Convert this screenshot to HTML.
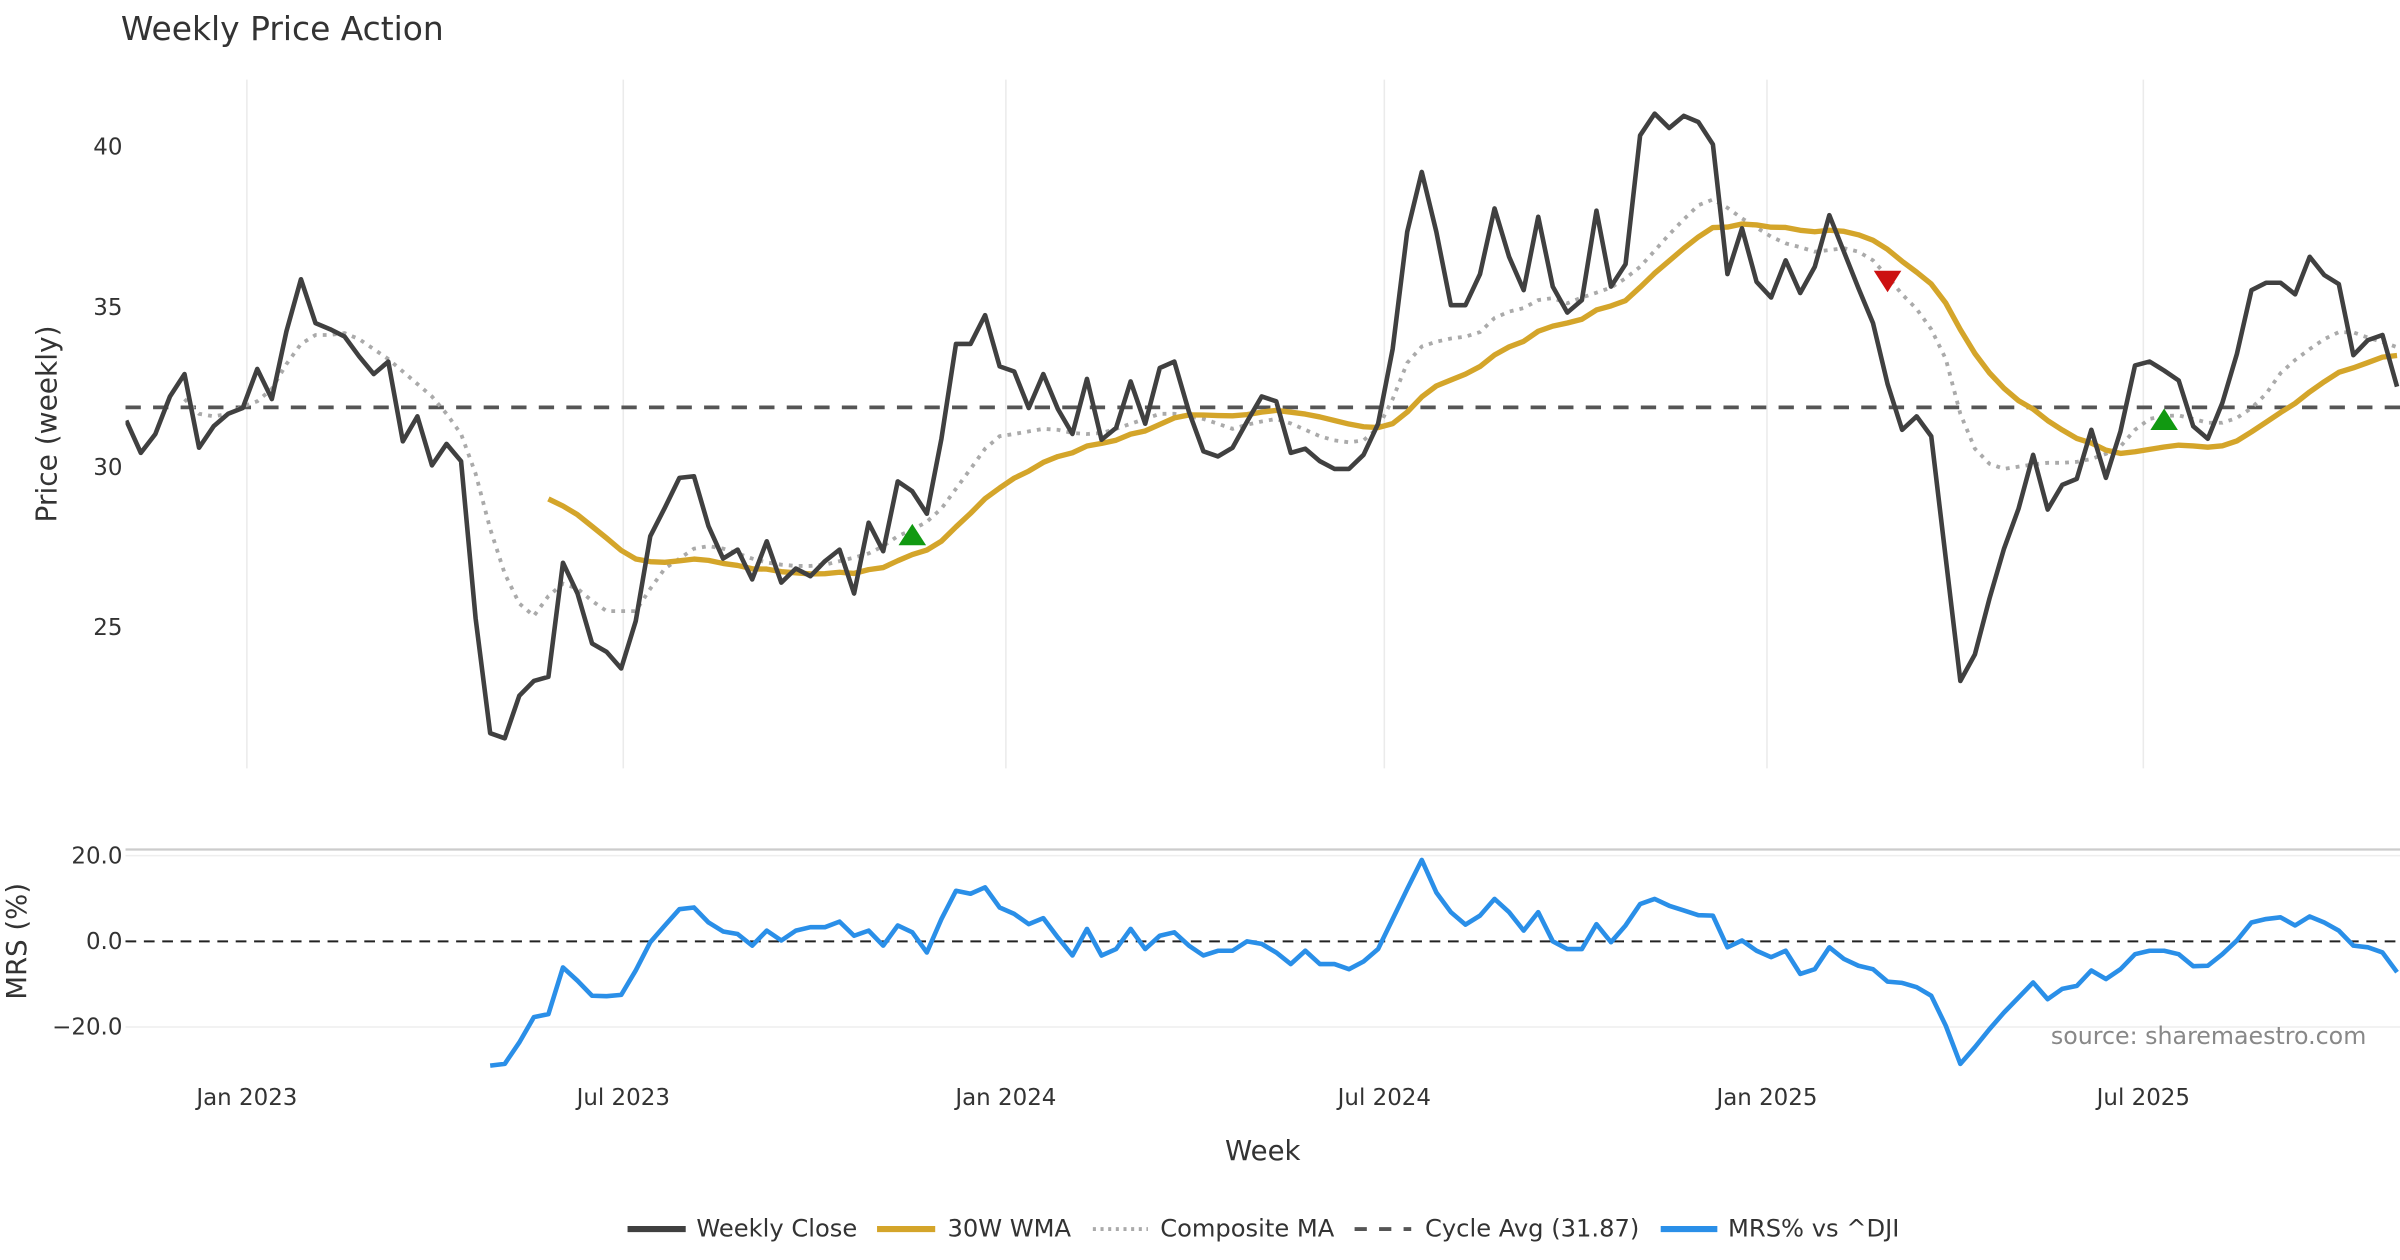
<!DOCTYPE html>
<html><head><meta charset="utf-8"><style>
html,body{margin:0;padding:0;background:#fff;}
svg{display:block;font-family:"DejaVu Sans","Liberation Sans",sans-serif;}
</style></head><body>
<svg id="chart" width="2400" height="1260" viewBox="0 0 1568 823.2" xmlns="http://www.w3.org/2000/svg">
<rect width="1568" height="823.2" fill="#fff"/>
<text x="79" y="26" font-size="21.5" fill="#333">Weekly Price Action</text>
<g id="grid"></g>
<g id="series"></g>
<g id="axes"></g>
<text transform="translate(37,277) rotate(-90)" text-anchor="middle" font-size="18.3" fill="#333">Price (weekly)</text>
<text transform="translate(17,615) rotate(-90)" text-anchor="middle" font-size="18" fill="#333">MRS (%)</text>
<text x="825" y="758" text-anchor="middle" font-size="18" fill="#333">Week</text>
<text x="1546" y="682" text-anchor="end" font-size="15.5" fill="#888">source: sharemaestro.com</text>
<g font-size="15.8" fill="#333">
  <g><line x1="410" y1="803" x2="448" y2="803" stroke="#404040" stroke-width="4"/><text x="455" y="808">Weekly Close</text></g>
  <g><line x1="573" y1="803" x2="611" y2="803" stroke="#D4A52A" stroke-width="4"/><text x="619" y="808">30W WMA</text></g>
  <g><line x1="714" y1="803" x2="750" y2="803" stroke="#aaa" stroke-width="2.5" stroke-dasharray="2,3"/><text x="758" y="808">Composite MA</text></g>
  <g><line x1="885" y1="803" x2="922" y2="803" stroke="#555" stroke-width="2.5" stroke-dasharray="8,8"/><text x="931" y="808">Cycle Avg (31.87)</text></g>
  <g><line x1="1085" y1="803" x2="1122" y2="803" stroke="#2A8FE8" stroke-width="4"/><text x="1129" y="808">MRS% vs ^DJI</text></g>
</g>
</svg>
<script>
const closes = [31.46,30.45,31.04,32.21,32.91,30.61,31.28,31.67,31.85,33.07,
32.13,34.24,35.87,34.50,34.31,34.08,33.46,32.91,33.30,30.81,
31.59,30.06,30.73,30.19,25.28,21.70,21.54,22.87,23.33,23.46,
27.02,26.06,24.50,24.24,23.72,25.20,27.85,28.74,29.67,29.72,
28.16,27.15,27.43,26.50,27.69,26.40,26.84,26.60,27.07,27.43,
26.06,28.27,27.38,29.56,29.25,28.55,30.89,33.85,33.85,34.75,
33.15,32.99,31.85,32.91,31.82,31.04,32.76,30.86,31.23,32.68,
31.36,33.10,33.30,31.74,
30.50,30.34,30.61,31.43,32.21,32.06,30.45,30.58,30.19,29.95,
29.95,30.39,31.36,33.69,37.35,39.22,37.35,35.06,35.06,36.03,
38.08,36.57,35.53,37.82,35.64,34.83,35.22,38.01,35.64,36.34,
40.36,41.04,40.59,40.97,40.78,40.08,36.03,37.46,35.79,35.30,
36.46,35.44,36.26,37.87,36.73,35.59,34.50,32.60,31.17,31.59,
30.97,27.15,23.33,24.16,25.90,27.46,28.71,30.39,28.68,29.45,
29.64,31.17,29.67,31.12,33.18,33.30,33.02,32.71,31.28,30.89,
32.01,33.54,35.53,35.76,35.76,35.40,36.57,36.00,35.72,33.50,
33.97,34.13,32.52];
const compositeStart = 4;
const compositeValues = [32.13,31.67,31.59,31.67,31.90,32.06,32.45,33.22,33.85,34.13,
34.13,34.19,34.00,33.69,33.38,32.99,32.60,32.21,31.67,31.04,29.80,
28.08,26.68,25.75,25.36,25.98,26.37,26.21,25.83,25.51,25.51,25.51,
26.21,26.84,27.15,27.46,27.54,27.46,27.31,27.15,27.03,26.96,26.92,26.92,26.96,27.07,27.18,27.31,27.54,27.85,
28.05,28.30,
28.71,29.33,29.95,30.58,30.97,31.04,31.12,31.20,31.17,31.07,31.04,31.07,31.20,31.36,31.51,31.67,31.67,31.59,
31.51,31.36,31.20,31.33,
31.43,31.51,31.37,31.17,30.97,30.84,30.78,30.84,31.23,32.13,
33.26,33.77,33.92,34.02,34.08,34.22,34.66,34.86,34.97,35.22,
35.28,35.12,35.30,35.45,35.61,35.90,36.26,36.76,37.27,37.74,
38.18,38.36,38.10,37.77,37.48,37.20,36.99,36.87,36.73,36.78,
36.84,36.73,36.46,35.95,35.40,34.94,34.31,33.38,31.67,30.58,
30.11,29.95,30.02,30.09,30.14,30.14,30.17,30.26,30.42,30.65,
31.17,31.51,31.60,31.62,31.51,31.39,31.39,31.54,31.85,32.29,
32.94,33.35,33.69,34.00,34.22,34.21,34.05,33.91,33.75];
const mrsStart = 25;
const mrsValues = [-29.0,-28.6,-23.6,-17.7,-17.0,-6.1,-9.2,-12.7,-12.8,-12.5,
-6.8,-0.2,3.7,7.5,7.9,4.4,2.3,1.7,-1.0,2.5,
0.2,2.5,3.3,3.3,4.6,1.3,2.5,-1.0,3.7,2.1,
-2.6,5.2,11.8,11.1,12.6,7.9,6.4,4.0,5.4,0.9,
-3.3,2.9,-3.3,-1.8,2.9,-1.8,1.3,2.1,-1.0,-3.3,
-2.2,-2.2,0,-0.6,-2.6,-5.3,-2.2,-5.3,-5.3,-6.5,
-4.7,-1.8,5.2,12.2,19.0,11.4,6.8,3.9,6.0,9.9,
6.8,2.5,6.8,0,-1.8,-1.8,4.0,-0.2,3.7,8.7,
9.9,8.3,7.2,6.1,6.0,-1.4,0.2,-2.2,-3.7,-2.2,
-7.6,-6.5,-1.4,-4.1,-5.7,-6.5,-9.4,-9.7,-10.7,-12.7,
-19.7,-28.6,-24.7,-20.5,-16.6,-13.1,-9.6,-13.5,-11.1,-10.4,
-6.8,-8.8,-6.5,-3.0,-2.2,-2.2,-3.0,-5.8,-5.7,-3.0,
0.2,4.4,5.2,5.6,3.7,5.8,4.4,2.5,-1.0,-1.4,-2.6,-7.2];
const cycleAvg = 31.87;
const signalIdx = [54, 121, 140];
const signalPrice = [27.9, 35.8, 31.5];
const signalDir = ["up", "down", "up"];
const priceTicks = [25, 30, 35, 40];
const mrsTicks = [-20, 0, 20];
const mrsTickLabels = ["\u221220.0", "0.0", "20.0"];
const dateTicks = ["2023-01-01","2023-07-01","2024-01-01","2024-07-01","2025-01-01","2025-07-01"];
const dateTickLabels = ["Jan 2023","Jul 2023","Jan 2024","Jul 2024","Jan 2025","Jul 2025"];

(function(){
const NS = "http://www.w3.org/2000/svg";
const X0 = 82.5, STEP = 9.51;
const START = Date.UTC(2022, 10, 4);
function xIdx(i){ return X0 + i*STEP; }
function xDate(s){ const d = Date.parse(s + "T00:00:00Z"); return X0 + (d-START)/(7*864e5)*STEP; }
function yP(v){ return 96 + (40 - v)*20.93; }
function yM(v){ return 615 - v*2.8; }
function mk(tag, attrs, parent){ const e=document.createElementNS(NS,tag); for(const k in attrs) e.setAttribute(k, attrs[k]); parent.appendChild(e); return e; }

function wma(arr, n){ const out=[]; for(let i=0;i<arr.length;i++){ if(i<n-1){out.push(null);continue;} let s=0,w=0; for(let k=0;k<n;k++){ s+=arr[i-k]*(n-k); w+=(n-k);} out.push(s/w);} return out; }
const wma30 = wma(closes, 30);

const gridG = document.getElementById('grid');
const seriesG = document.getElementById('series');
const axesG = document.getElementById('axes');

const defs = mk('defs', {}, seriesG);
const cp = mk('clipPath', {id:'clipTop'}, defs); mk('rect',{x:82,y:40,width:1486,height:470},cp);
const cp2 = mk('clipPath', {id:'clipBot'}, defs); mk('rect',{x:82,y:550,width:1486,height:160},cp2);

dateTicks.forEach((d,i)=>{
  const x = xDate(d);
  const gl = mk('line',{x1:x,y1:52,x2:x,y2:502,stroke:'#ebebeb','stroke-width':1},gridG);
  
  
  const t = mk('text',{x:x,y:722,'text-anchor':'middle','font-size':15,fill:'#333'},axesG);
  t.textContent = dateTickLabels[i];
  
  
});
priceTicks.forEach(v=>{
  const t = mk('text',{x:80,y:yP(v)+5,'text-anchor':'end','font-size':15,fill:'#333'},axesG);
  t.textContent = String(v);
  
  
});
const bt = mk('line',{x1:82,y1:555,x2:1568,y2:555,stroke:'#ccc','stroke-width':1.5},gridG);


mrsTicks.forEach((v,i)=>{
  if(v!==0){
    const g = mk('line',{x1:82,y1:yM(v),x2:1568,y2:yM(v),stroke:'#eee','stroke-width':1},gridG);
    
    
  }
  const t = mk('text',{x:80,y:yM(v)+5,'text-anchor':'end','font-size':15,fill:'#333'},axesG);
  t.textContent = mrsTickLabels[i];
  
  
});
const zl = mk('line',{x1:82,y1:yM(0),x2:1568,y2:yM(0),stroke:'#222','stroke-width':1.3,'stroke-dasharray':'7,5'},gridG);



function pathFrom(vals, offset, yf){ let d=''; vals.forEach((v,i)=>{ if(v===null) return; d += (d?'L':'M') + xIdx(i+offset).toFixed(2)+','+yf(v).toFixed(2); }); return d; }

const topG = mk('g',{'clip-path':'url(#clipTop)'},seriesG);
const cyc = mk('line',{x1:82,y1:yP(cycleAvg),x2:1568,y2:yP(cycleAvg),stroke:'#555','stroke-width':2.5,'stroke-dasharray':'10,8'},topG);


const pc = mk('path',{d:pathFrom(compositeValues,compositeStart,yP),fill:'none',stroke:'#aaa','stroke-width':2.5,'stroke-dasharray':'2.5,4'},topG);


const pw = mk('path',{d:pathFrom(wma30,0,yP),fill:'none',stroke:'#D4A52A','stroke-width':3.5,'stroke-linejoin':'round'},topG);


const pcl = mk('path',{d:pathFrom(closes,0,yP),fill:'none',stroke:'#404040','stroke-width':3,'stroke-linejoin':'round'},topG);


signalIdx.forEach((idx,i)=>{
  const x = xIdx(idx), y = yP(signalPrice[i]);
  const pts = signalDir[i]==='up' ? `${x-9},${y+7} ${x+9},${y+7} ${x},${y-7}` : `${x-9},${y-7} ${x+9},${y-7} ${x},${y+7}`;
  const tri = mk('polygon',{points:pts,fill:signalDir[i]==='up'?'#119911':'#cc1111'},topG);
  
  
});
const botG = mk('g',{'clip-path':'url(#clipBot)'},seriesG);
const pm = mk('path',{d:pathFrom(mrsValues,mrsStart,yM),fill:'none',stroke:'#2A8FE8','stroke-width':3,'stroke-linejoin':'round'},botG);


})();
</script>
</body></html>
